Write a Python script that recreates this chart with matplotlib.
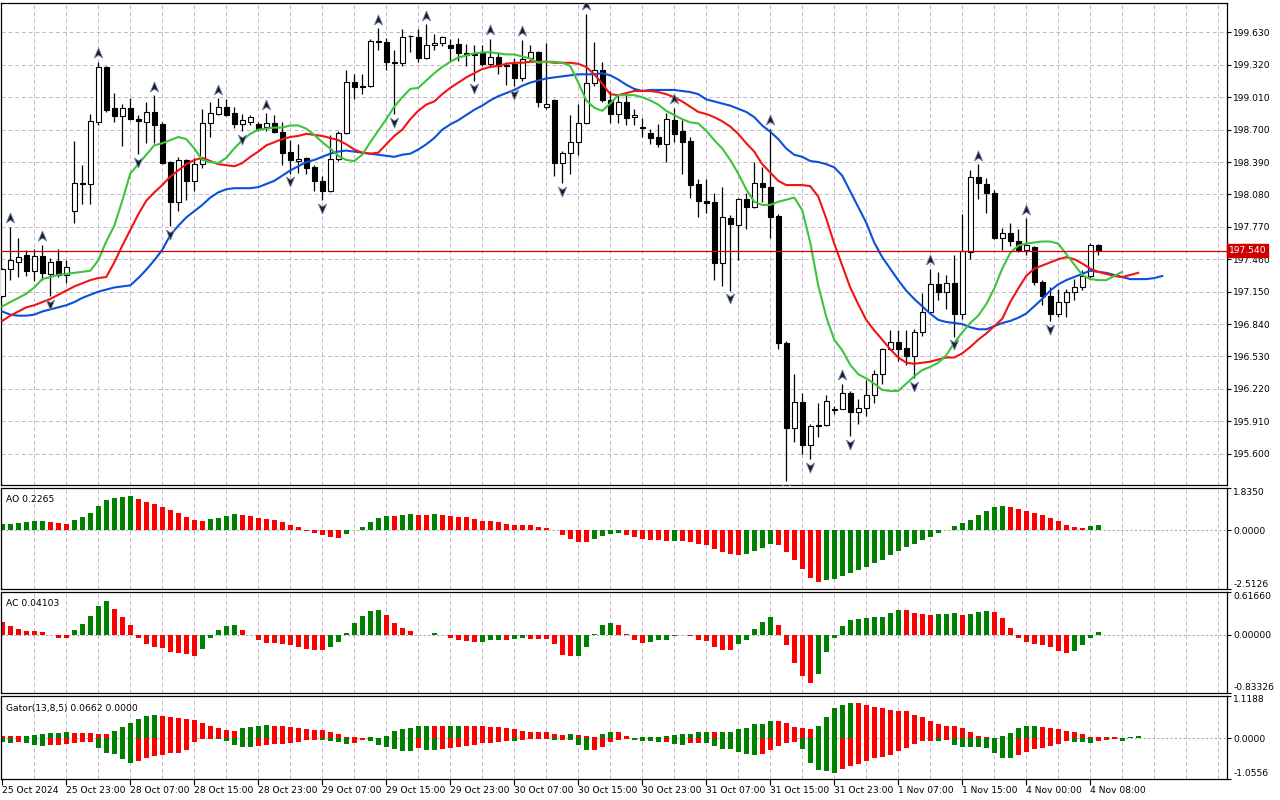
import numpy as np
import matplotlib
matplotlib.use("Agg")
import matplotlib.pyplot as plt
from matplotlib.path import Path
import matplotlib.transforms as mtransforms

# ---- hourly candles (bar 0 = 25 Oct 2024 15:00) ----
opens = [197.11, 197.37, 197.43, 197.50, 197.35, 197.49, 197.32, 197.44, 197.31, 197.92,
         198.19, 198.18, 198.77, 199.30, 198.91, 198.83, 198.91, 198.80, 198.77, 198.87,
         198.75, 198.39, 198.01, 198.41, 198.21, 198.37, 198.76, 198.85, 198.92, 198.86,
         198.75, 198.77, 198.75, 198.73, 198.76, 198.68, 198.49, 198.40, 198.43, 198.34,
         198.21, 198.11, 198.42, 198.67, 199.16, 199.12, 199.12, 199.55, 199.54, 199.35,
         199.34, 199.60, 199.59, 199.39, 199.51, 199.53, 199.51, 199.52, 199.43, 199.41,
         199.43, 199.33, 199.40, 199.32, 199.33, 199.19, 199.39, 199.44, 198.92, 198.98,
         198.38, 198.48, 198.58, 198.76, 199.15, 199.27, 198.98, 198.85, 198.96, 198.82,
         198.73, 198.67, 198.63, 198.56, 198.79, 198.69, 198.59, 198.18, 198.02, 198.01,
         197.42, 197.85, 197.79, 198.04, 197.96, 198.19, 198.15, 197.87, 196.66, 195.85,
         196.09, 195.68, 195.86, 195.87, 196.02, 196.03, 196.18, 196.00, 196.04, 196.16,
         196.36, 196.60, 196.67, 196.61, 196.53, 196.76, 196.96, 197.22, 197.15, 197.23,
         196.94, 197.53, 198.25, 198.18, 198.09, 197.66, 197.71, 197.63, 197.55, 197.58,
         197.24, 197.11, 196.94, 197.05, 197.15, 197.19, 197.30, 197.60]
highs = [197.38, 197.77, 197.66, 197.55, 197.56, 197.60, 197.47, 197.56, 197.45, 198.59,
         198.36, 198.85, 199.35, 199.31, 199.05, 198.95, 199.00, 198.84, 198.96, 199.03,
         198.77, 198.40, 198.44, 198.42, 198.43, 198.90, 198.96, 199.00, 198.99, 198.92,
         198.85, 198.84, 198.77, 198.86, 198.84, 198.77, 198.60, 198.56, 198.44, 198.36,
         198.26, 198.65, 198.69, 199.27, 199.23, 199.23, 199.57, 199.67, 199.58, 199.46,
         199.66, 199.61, 199.66, 199.71, 199.62, 199.60, 199.57, 199.58, 199.52, 199.51,
         199.51, 199.57, 199.44, 199.35, 199.39, 199.56, 199.51, 199.45, 199.53, 198.99,
         198.50, 198.84, 198.95, 199.81, 199.54, 199.35, 199.07, 199.04, 199.04, 198.90,
         198.81, 198.71, 198.75, 198.86, 198.91, 198.79, 198.63, 198.23, 198.23, 198.09,
         198.15, 197.88, 198.05, 198.09, 198.39, 198.34, 198.71, 197.89, 196.68, 196.36,
         196.18, 195.88, 196.08, 196.16, 196.06, 196.27, 196.20, 196.12, 196.30, 196.40,
         196.61, 196.78, 196.78, 196.78, 196.79, 197.14, 197.37, 197.34, 197.31, 197.50,
         197.89, 198.31, 198.37, 198.24, 198.12, 197.76, 197.81, 197.75, 197.85, 197.59,
         197.26, 197.19, 197.18, 197.18, 197.27, 197.36, 197.62, 197.61]
lows = [197.10, 197.26, 197.29, 197.30, 197.25, 197.26, 197.11, 197.29, 197.23, 197.81,
        197.99, 197.99, 198.74, 198.87, 198.77, 198.54, 198.79, 198.47, 198.57, 198.57,
        198.37, 197.78, 197.92, 198.03, 198.11, 198.33, 198.63, 198.84, 198.83, 198.72,
        198.69, 198.74, 198.69, 198.69, 198.67, 198.36, 198.28, 198.29, 198.28, 198.11,
        198.03, 198.10, 198.40, 198.66, 198.99, 199.04, 199.11, 199.46, 199.27, 198.85,
        199.31, 199.44, 199.35, 199.38, 199.46, 199.50, 199.36, 199.36, 199.31, 199.17,
        199.31, 199.30, 199.23, 199.13, 199.12, 199.17, 199.36, 198.92, 198.90, 198.26,
        198.19, 198.28, 198.46, 198.75, 199.12, 198.96, 198.76, 198.76, 198.74, 198.74,
        198.63, 198.56, 198.53, 198.39, 198.58, 198.28, 198.05, 197.86, 197.90, 197.26,
        197.20, 197.16, 197.45, 197.75, 197.95, 198.01, 197.66, 196.60, 195.34, 195.71,
        195.60, 195.55, 195.76, 195.86, 195.98, 196.03, 195.77, 195.88, 195.96, 196.08,
        196.27, 196.59, 196.49, 196.45, 196.32, 196.73, 196.95, 197.07, 196.98, 196.72,
        196.89, 197.46, 198.04, 197.90, 197.65, 197.55, 197.59, 197.53, 197.50, 197.21,
        197.02, 196.87, 196.91, 196.91, 197.07, 197.17, 197.28, 197.50]
closes = [197.37, 197.45, 197.48, 197.35, 197.49, 197.33, 197.43, 197.31, 197.39, 198.19,
          198.18, 198.78, 199.30, 198.89, 198.83, 198.91, 198.80, 198.78, 198.87, 198.74,
          198.38, 198.01, 198.41, 198.21, 198.37, 198.76, 198.86, 198.92, 198.84, 198.75,
          198.79, 198.82, 198.71, 198.76, 198.68, 198.48, 198.41, 198.42, 198.33, 198.21,
          198.11, 198.42, 198.67, 199.16, 199.11, 199.11, 199.55, 199.54, 199.35, 199.34,
          199.59, 199.595, 199.39, 199.51, 199.53, 199.59, 199.48, 199.43, 199.41, 199.42,
          199.33, 199.40, 199.31, 199.31, 199.19, 199.38, 199.44, 198.96, 198.95, 198.38,
          198.48, 198.58, 198.76, 199.15, 199.27, 198.98, 198.85, 198.96, 198.81, 198.84,
          198.72, 198.62, 198.56, 198.80, 198.66, 198.58, 198.17, 198.02, 198.00, 197.42,
          197.86, 197.80, 198.04, 197.96, 198.19, 198.15, 197.86, 196.66, 195.85, 196.09,
          195.68, 195.86, 195.87, 196.10, 196.03, 196.18, 196.00, 196.04, 196.16, 196.36,
          196.60, 196.67, 196.60, 196.53, 196.76, 196.96, 197.22, 197.15, 197.23, 196.94,
          197.54, 198.25, 198.19, 198.09, 197.66, 197.71, 197.63, 197.55, 197.60, 197.24,
          197.11, 196.94, 197.05, 197.15, 197.19, 197.30, 197.60, 197.54]

# ---- Alligator lines (already shifted forward) ----
lips = [197.01, 197.05, 197.09, 197.13, 197.19, 197.27, 197.29, 197.31, 197.32, 197.33,
        197.34, 197.35, 197.45, 197.63, 197.78, 198.02, 198.28, 198.37, 198.46, 198.55,
        198.57, 198.60, 198.63, 198.61, 198.52, 198.41, 198.39, 198.38, 198.43, 198.52,
        198.60, 198.66, 198.70, 198.71, 198.72, 198.72, 198.74, 198.74, 198.71, 198.65,
        198.58, 198.52, 198.45, 198.41, 198.40, 198.46, 198.58, 198.69, 198.80, 198.92,
        199.01, 199.09, 199.10, 199.17, 199.24, 199.30, 199.35, 199.39, 199.41, 199.43,
        199.44, 199.44, 199.43, 199.42, 199.42, 199.40, 199.38, 199.34, 199.35, 199.35,
        199.34, 199.31, 199.15, 198.98, 198.91, 198.88, 198.95, 199.03, 199.03, 199.03,
        199.01, 198.98, 198.94, 198.88, 198.84, 198.80, 198.77, 198.76, 198.69, 198.60,
        198.52, 198.41, 198.28, 198.13, 198.01, 197.98, 197.98, 198.01, 198.03, 198.05,
        197.93, 197.62, 197.21, 196.91, 196.69, 196.59, 196.45, 196.36, 196.32, 196.27,
        196.21, 196.20, 196.20, 196.27, 196.34, 196.40, 196.43, 196.47, 196.54, 196.66,
        196.76, 196.85, 196.92, 197.03, 197.18, 197.37, 197.52, 197.59, 197.61, 197.62,
        197.63, 197.63, 197.61, 197.51, 197.41, 197.31, 197.27, 197.26, 197.26, 197.30,
        197.34]
teeth = [196.87, 196.92, 196.96, 197.00, 197.02, 197.05, 197.08, 197.12, 197.16, 197.20,
         197.23, 197.26, 197.28, 197.29, 197.43, 197.59, 197.74, 197.89, 198.02, 198.10,
         198.17, 198.25, 198.31, 198.37, 198.41, 198.43, 198.40, 198.37, 198.36, 198.35,
         198.38, 198.44, 198.49, 198.55, 198.58, 198.61, 198.63, 198.64, 198.66, 198.65,
         198.64, 198.62, 198.60, 198.56, 198.51, 198.48, 198.47, 198.48, 198.56, 198.64,
         198.70, 198.80, 198.88, 198.94, 198.97, 199.04, 199.10, 199.15, 199.20, 199.24,
         199.28, 199.30, 199.31, 199.33, 199.34, 199.34, 199.35, 199.35, 199.35, 199.34,
         199.34, 199.34, 199.33, 199.30, 199.23, 199.14, 199.04, 199.03, 199.05, 199.07,
         199.07, 199.07, 199.06, 199.04, 199.01, 198.97, 198.92, 198.87, 198.85, 198.82,
         198.78, 198.73, 198.66, 198.57, 198.49, 198.37, 198.29, 198.21, 198.17, 198.17,
         198.17, 198.16, 198.06, 197.85, 197.61, 197.40, 197.19, 197.03, 196.88, 196.78,
         196.69, 196.60, 196.52, 196.47, 196.46, 196.47, 196.48, 196.50, 196.52, 196.52,
         196.56, 196.62, 196.69, 196.75, 196.82, 196.89, 197.05, 197.18, 197.30, 197.37,
         197.40, 197.43, 197.46, 197.48, 197.46, 197.42, 197.37, 197.34, 197.32, 197.30,
         197.29, 197.31, 197.33]
jaw = [196.96, 196.93, 196.92, 196.92, 196.93, 196.96, 196.98, 197.00, 197.02, 197.05,
       197.09, 197.12, 197.15, 197.17, 197.19, 197.20, 197.21, 197.28, 197.36, 197.45,
       197.55, 197.69, 197.78, 197.86, 197.92, 197.98, 198.05, 198.10, 198.13, 198.14,
       198.14, 198.14, 198.15, 198.18, 198.21, 198.26, 198.31, 198.35, 198.39, 198.41,
       198.44, 198.47, 198.49, 198.50, 198.49, 198.48, 198.47, 198.46, 198.45, 198.44,
       198.46, 198.47, 198.51, 198.56, 198.62, 198.70, 198.75, 198.79, 198.84, 198.89,
       198.93, 198.98, 199.02, 199.05, 199.08, 199.12, 199.15, 199.17, 199.19, 199.20,
       199.21, 199.22, 199.23, 199.23, 199.23, 199.24, 199.22, 199.18, 199.13, 199.09,
       199.07, 199.08, 199.08, 199.08, 199.08, 199.07, 199.06, 199.04, 198.99, 198.97,
       198.95, 198.93, 198.90, 198.87, 198.82, 198.74, 198.68, 198.61, 198.52, 198.46,
       198.44, 198.40, 198.39, 198.37, 198.34, 198.26, 198.11, 197.96, 197.81, 197.62,
       197.48, 197.37, 197.26, 197.16, 197.08, 197.01, 196.94, 196.88, 196.86, 196.85,
       196.84, 196.81, 196.79, 196.79, 196.82, 196.85, 196.87, 196.90, 196.94, 197.01,
       197.08, 197.16, 197.22, 197.26, 197.29, 197.32, 197.35, 197.34, 197.33, 197.31,
       197.29, 197.27, 197.27, 197.27, 197.28, 197.30]

# ---- Bill Williams fractals (bar indices) ----
fractal_up = [1, 5, 12, 19, 27, 33, 47, 53, 61, 65, 73, 84, 96, 105, 116, 122, 128]
fractal_down = [6, 17, 21, 30, 36, 40, 49, 59, 64, 70, 91, 98, 101, 106, 114, 119, 131]

# ---- Awesome / Accelerator oscillators ----
ao = [0.26, 0.29, 0.32, 0.36, 0.39, 0.40, 0.35, 0.30, 0.29, 0.45,
      0.57, 0.74, 1.04, 1.30, 1.39, 1.43, 1.48, 1.35, 1.22, 1.13,
      1.01, 0.87, 0.74, 0.57, 0.43, 0.39, 0.48, 0.52, 0.61, 0.70,
      0.65, 0.61, 0.52, 0.48, 0.43, 0.35, 0.22, 0.13, -0.02, -0.12,
      -0.22, -0.30, -0.31, -0.17, 0.01, 0.13, 0.35, 0.52, 0.61, 0.60,
      0.65, 0.70, 0.65, 0.64, 0.70, 0.65, 0.61, 0.57, 0.56, 0.48,
      0.39, 0.38, 0.35, 0.26, 0.25, 0.22, 0.21, 0.13, 0.12, 0.01,
      -0.22, -0.36, -0.51, -0.52, -0.36, -0.25, -0.16, -0.10, -0.22, -0.29,
      -0.39, -0.42, -0.43, -0.46, -0.44, -0.47, -0.51, -0.59, -0.64, -0.81,
      -0.94, -1.03, -1.04, -1.01, -0.90, -0.77, -0.59, -0.64, -0.94, -1.29,
      -1.64, -2.03, -2.20, -2.12, -2.07, -1.94, -1.81, -1.68, -1.55, -1.42,
      -1.29, -1.07, -0.90, -0.72, -0.59, -0.42, -0.29, -0.12, 0.01, 0.17,
      0.30, 0.43, 0.65, 0.83, 1.00, 1.04, 1.00, 0.91, 0.83, 0.74,
      0.65, 0.52, 0.39, 0.22, 0.13, 0.12, 0.17, 0.2265]
ac = [0.18, 0.13, 0.09, 0.06, 0.055, 0.04, 0.003, -0.04, -0.045, 0.07,
      0.16, 0.27, 0.42, 0.49, 0.37, 0.26, 0.14, -0.04, -0.14, -0.18,
      -0.185, -0.25, -0.27, -0.28, -0.30, -0.20, -0.04, 0.07, 0.13, 0.145,
      0.07, 0.0, -0.08, -0.12, -0.125, -0.14, -0.15, -0.17, -0.20, -0.22,
      -0.225, -0.18, -0.10, 0.03, 0.17, 0.27, 0.34, 0.36, 0.29, 0.17,
      0.10, 0.06, -0.005, -0.007, 0.03, -0.005, -0.04, -0.07, -0.095, -0.11,
      -0.108, -0.08, -0.07, -0.08, -0.065, -0.05, -0.055, -0.06, -0.065, -0.13,
      -0.29, -0.31, -0.30, -0.18, 0.005, 0.14, 0.17, 0.14, 0.015, -0.08,
      -0.12, -0.105, -0.08, -0.07, -0.025, -0.005, -0.02, -0.07, -0.095, -0.18,
      -0.22, -0.225, -0.14, -0.07, 0.09, 0.19, 0.26, 0.14, -0.15, -0.41,
      -0.60, -0.70, -0.57, -0.25, -0.04, 0.13, 0.215, 0.23, 0.245, 0.25,
      0.26, 0.32, 0.36, 0.355, 0.32, 0.30, 0.29, 0.30, 0.305, 0.31,
      0.29, 0.295, 0.33, 0.34, 0.33, 0.24, 0.10, -0.05, -0.11, -0.14,
      -0.15, -0.18, -0.24, -0.27, -0.24, -0.15, -0.04, 0.041]

# ---- Gator oscillator ----
gator_up = [0.07, 0.06, 0.05, 0.07, 0.08, 0.10, 0.13, 0.14, 0.15, 0.145,
            0.13, 0.125, 0.12, 0.10, 0.20, 0.29, 0.39, 0.50, 0.58, 0.62,
            0.58, 0.56, 0.52, 0.50, 0.48, 0.41, 0.33, 0.27, 0.21, 0.20,
            0.26, 0.30, 0.33, 0.335, 0.32, 0.31, 0.30, 0.27, 0.24, 0.22,
            0.21, 0.15, 0.10, 0.04, 0.03, 0.01, 0.02, 0.015, 0.07, 0.18,
            0.24, 0.26, 0.31, 0.33, 0.32, 0.31, 0.315, 0.33, 0.325, 0.32,
            0.31, 0.30, 0.29, 0.27, 0.24, 0.19, 0.17, 0.16, 0.15, 0.10,
            0.095, 0.12, 0.09, 0.07, 0.02, 0.12, 0.17, 0.165, 0.07, 0.01,
            0.02, 0.03, 0.04, 0.07, 0.075, 0.10, 0.12, 0.15, 0.155, 0.15,
            0.155, 0.17, 0.25, 0.28, 0.36, 0.38, 0.46, 0.44, 0.41, 0.30,
            0.26, 0.24, 0.31, 0.56, 0.79, 0.88, 0.93, 0.925, 0.88, 0.82,
            0.78, 0.75, 0.72, 0.70, 0.61, 0.55, 0.46, 0.38, 0.32, 0.31,
            0.26, 0.15, 0.07, 0.03, 0.01, 0.07, 0.13, 0.26, 0.32, 0.325,
            0.30, 0.27, 0.24, 0.19, 0.17, 0.10, 0.03, 0.02, 0.03, 0.02,
            0.01, 0.03, 0.0662]
gator_down = [-0.10, -0.13, -0.10, -0.13, -0.17, -0.20, -0.18, -0.17, -0.15, -0.13,
              -0.11, -0.10, -0.25, -0.40, -0.42, -0.55, -0.65, -0.61, -0.52, -0.46,
              -0.43, -0.38, -0.375, -0.31, -0.11, -0.02, -0.01, -0.015, -0.07, -0.18,
              -0.23, -0.235, -0.20, -0.17, -0.16, -0.155, -0.13, -0.11, -0.06, -0.035,
              -0.05, -0.08, -0.105, -0.16, -0.13, -0.05, -0.07, -0.19, -0.24, -0.27,
              -0.34, -0.345, -0.25, -0.30, -0.31, -0.27, -0.25, -0.22, -0.20, -0.175,
              -0.13, -0.125, -0.10, -0.08, -0.085, -0.045, -0.03, -0.02, -0.01, -0.045,
              -0.04, -0.05, -0.18, -0.31, -0.305, -0.23, -0.11, -0.05, -0.02, -0.05,
              -0.08, -0.085, -0.11, -0.10, -0.16, -0.165, -0.13, -0.128, -0.135, -0.20,
              -0.27, -0.29, -0.36, -0.41, -0.44, -0.42, -0.31, -0.20, -0.13, -0.11,
              -0.29, -0.65, -0.83, -0.86, -0.90, -0.80, -0.72, -0.68, -0.59, -0.53,
              -0.48, -0.43, -0.34, -0.25, -0.14, -0.07, -0.065, -0.07, -0.05, -0.17,
              -0.22, -0.225, -0.23, -0.25, -0.38, -0.52, -0.525, -0.45, -0.36, -0.29,
              -0.245, -0.20, -0.14, -0.08, -0.095, -0.11, -0.115, -0.08, -0.045, -0.02,
              -0.07]

price_ticks = [199.63, 199.32, 199.01, 198.70, 198.39, 198.08, 197.77, 197.46,
               197.15, 196.84, 196.53, 196.22, 195.91, 195.60]
last_price = 197.54
time_labels = ["25 Oct 2024", "25 Oct 23:00", "28 Oct 07:00", "28 Oct 15:00",
               "28 Oct 23:00", "29 Oct 07:00", "29 Oct 15:00", "29 Oct 23:00",
               "30 Oct 07:00", "30 Oct 15:00", "30 Oct 23:00", "31 Oct 07:00",
               "31 Oct 15:00", "31 Oct 23:00", "1 Nov 07:00", "1 Nov 15:00",
               "4 Nov 00:00", "4 Nov 08:00"]

FS = 6.6
GRID = "#c4b6c8"
GREEN = "#008000"
RED = "#ff0000"
plt.rcParams["font.family"] = "DejaVu Sans"

fig = plt.figure(figsize=(12.8, 8), dpi=100)
left, width = 1 / 1280, 1226 / 1280
ax = fig.add_axes([left, 315 / 800, width, 482 / 800])
ao_ax = fig.add_axes([left, 211 / 800, width, 101.5 / 800])
ac_ax = fig.add_axes([left, 107.5 / 800, width, 100.5 / 800])
gt_ax = fig.add_axes([left, 21.5 / 800, width, 83 / 800])

xmin, xmax = -0.16, 153.1
for a in (ax, ao_ax, ac_ax, gt_ax):
    a.set_xlim(xmin, xmax)
    for k in range(4, 153, 4):
        a.axvline(k, color=GRID, lw=0.7, ls=(0, (4, 3)), zorder=0)
    for s in a.spines.values():
        s.set_linewidth(0.9)
        s.set_color("black")
    a.yaxis.tick_right()
    a.tick_params(axis="y", length=3, width=0.8, pad=1.5, labelsize=FS, direction="out")
    a.tick_params(axis="x", length=0, labelbottom=False)

# ---- main price pane ----
ax.set_ylim(195.30, 199.912)
ax.set_yticks(price_ticks)
ax.set_yticklabels(["%.3f" % p for p in price_ticks])
for p in price_ticks:
    ax.axhline(p, color=GRID, lw=0.7, ls=(0, (4, 3)), zorder=0)

x = np.arange(len(opens))
o = np.array(opens)
c = np.array(closes)
ax.vlines(x, lows, highs, color="black", lw=0.9, zorder=2)
bull = c >= o
body_lo = np.minimum(o, c)
body_h = np.maximum(np.abs(c - o), 0.004)
ax.bar(x[bull], body_h[bull], bottom=body_lo[bull], width=0.62,
       color="white", edgecolor="black", linewidth=0.8, zorder=3)
ax.bar(x[~bull], body_h[~bull], bottom=body_lo[~bull], width=0.62,
       color="black", edgecolor="black", linewidth=0.8, zorder=3)

ax.plot(np.arange(len(jaw)), jaw, color="#0a50d8", lw=1.5, zorder=4)
ax.plot(np.arange(len(teeth)), teeth, color="#f01414", lw=1.5, zorder=4)
ax.plot(np.arange(len(lips)), lips, color="#3cc43c", lw=1.5, zorder=4)

up_arrow = Path([(0, 1), (0.75, -0.8), (0, -0.3), (-0.75, -0.8), (0, 1)],
                [Path.MOVETO, Path.LINETO, Path.LINETO, Path.LINETO, Path.CLOSEPOLY])
down_arrow = Path([(0, -1), (0.75, 0.8), (0, 0.3), (-0.75, 0.8), (0, -1)],
                  [Path.MOVETO, Path.LINETO, Path.LINETO, Path.LINETO, Path.CLOSEPOLY])
hi = np.array(highs)
lo = np.array(lows)
ax.plot(fractal_up, hi[fractal_up] + 0.08, ls="none", marker=up_arrow, ms=8,
        mfc="#1c1c1c", mec="#7088b8", mew=0.6, zorder=5)
ax.plot(fractal_down, lo[fractal_down] - 0.075, ls="none", marker=down_arrow, ms=8,
        mfc="#1c1c1c", mec="#7088b8", mew=0.6, zorder=5)

ax.axhline(last_price, color="#d40000", lw=0.9, zorder=4)
trans = mtransforms.blended_transform_factory(ax.transAxes, ax.transData)
ax.text(1.0015, last_price, "197.540", transform=trans, ha="left", va="center",
        color="white", fontsize=FS, zorder=10, clip_on=False,
        bbox=dict(boxstyle="square,pad=0.22", fc="#cc0000", ec="#cc0000"))


def bar_colors(vals, first):
    cols = [first]
    for i in range(1, len(vals)):
        cols.append(GREEN if vals[i] > vals[i - 1] else RED)
    return cols


def pane_axis(a, lo_v, hi_v, labels):
    a.set_ylim(lo_v, hi_v)
    a.set_yticks([hi_v, 0.0, lo_v])
    a.set_yticklabels(labels)
    ticks = a.yaxis.get_major_ticks()
    ticks[0].label2.set_va("top")
    ticks[2].label2.set_va("bottom")
    a.axhline(0, color="#a3b3a3", lw=0.8, ls=(0, (2, 2)), zorder=0)


# ---- AO ----
pane_axis(ao_ax, -2.5126, 1.835, ["1.8350", "0.0000", "-2.5126"])
ao_ax.bar(np.arange(len(ao)), ao, width=0.62, color=bar_colors(ao, GREEN), zorder=2)
ao_ax.text(0.004, 0.93, "AO 0.2265", transform=ao_ax.transAxes, ha="left", va="top", fontsize=FS)

# ---- AC ----
pane_axis(ac_ax, -0.83326, 0.6166, ["0.61660", "0.00000", "-0.83326"])
ac_ax.bar(np.arange(len(ac)), ac, width=0.62, color=bar_colors(ac, RED), zorder=2)
ac_ax.text(0.004, 0.93, "AC 0.04103", transform=ac_ax.transAxes, ha="left", va="top", fontsize=FS)

# ---- Gator ----
pane_axis(gt_ax, -1.0556, 1.1188, ["1.1188", "0.0000", "-1.0556"])
gt_ax.bar(np.arange(len(gator_up)), gator_up, width=0.62,
          color=bar_colors(gator_up, RED), zorder=2)
dn_abs = [-v for v in gator_down]
gt_ax.bar(np.arange(len(gator_down)), gator_down, width=0.62,
          color=bar_colors(dn_abs, GREEN), zorder=2)
gt_ax.text(0.004, 0.9, "Gator(13,8,5) 0.0662 0.0000", transform=gt_ax.transAxes,
           ha="left", va="top", fontsize=FS)
gt_ax.set_xticks(np.arange(0, 137, 8))
gt_ax.set_xticklabels(time_labels, ha="left")
gt_ax.tick_params(axis="x", length=4, width=0.8, pad=1.5, labelsize=FS, labelbottom=True)

fig.savefig("out.png", dpi=100)
